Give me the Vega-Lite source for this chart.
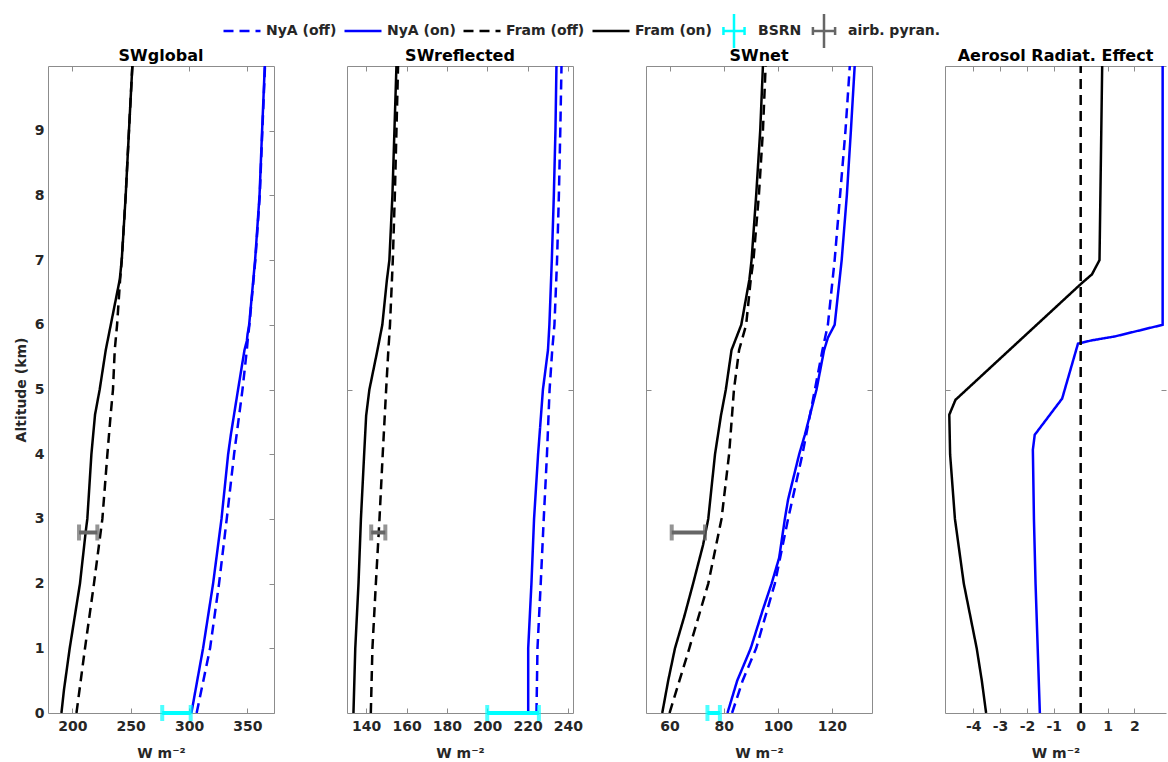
{
  "$schema": "https://vega.github.io/schema/vega-lite/v6.json",
  "autosize": {"type": "pad"},
  "padding": {"left": 13, "top": 10, "right": 0, "bottom": 0},
  "background": "white",
  "spacing": 73,
  "bounds": "flush",
  "datasets": {
    "lines": [
      {"panel": "SWglobal", "series": "Fram (on)", "alt": 0, "val": 190.6},
      {"panel": "SWglobal", "series": "Fram (on)", "alt": 0.36, "val": 192.8},
      {"panel": "SWglobal", "series": "Fram (on)", "alt": 1, "val": 197.7},
      {"panel": "SWglobal", "series": "Fram (on)", "alt": 2, "val": 206.5},
      {"panel": "SWglobal", "series": "Fram (on)", "alt": 2.8, "val": 211.4},
      {"panel": "SWglobal", "series": "Fram (on)", "alt": 3, "val": 212.8},
      {"panel": "SWglobal", "series": "Fram (on)", "alt": 4, "val": 216.3},
      {"panel": "SWglobal", "series": "Fram (on)", "alt": 4.61, "val": 219.4},
      {"panel": "SWglobal", "series": "Fram (on)", "alt": 5, "val": 223.4},
      {"panel": "SWglobal", "series": "Fram (on)", "alt": 5.61, "val": 228.6},
      {"panel": "SWglobal", "series": "Fram (on)", "alt": 6, "val": 232.9},
      {"panel": "SWglobal", "series": "Fram (on)", "alt": 6.7, "val": 240.6},
      {"panel": "SWglobal", "series": "Fram (on)", "alt": 7, "val": 242.3},
      {"panel": "SWglobal", "series": "Fram (on)", "alt": 8, "val": 245.7},
      {"panel": "SWglobal", "series": "Fram (on)", "alt": 9, "val": 248.5},
      {"panel": "SWglobal", "series": "Fram (on)", "alt": 10, "val": 251.4},
      {"panel": "SWglobal", "series": "Fram (off)", "alt": 0, "val": 203.5},
      {"panel": "SWglobal", "series": "Fram (off)", "alt": 1, "val": 210.8},
      {"panel": "SWglobal", "series": "Fram (off)", "alt": 2, "val": 218.5},
      {"panel": "SWglobal", "series": "Fram (off)", "alt": 3, "val": 225.7},
      {"panel": "SWglobal", "series": "Fram (off)", "alt": 4, "val": 230},
      {"panel": "SWglobal", "series": "Fram (off)", "alt": 4.61, "val": 232.8},
      {"panel": "SWglobal", "series": "Fram (off)", "alt": 5, "val": 234.8},
      {"panel": "SWglobal", "series": "Fram (off)", "alt": 5.61, "val": 236.3},
      {"panel": "SWglobal", "series": "Fram (off)", "alt": 6, "val": 238.3},
      {"panel": "SWglobal", "series": "Fram (off)", "alt": 6.7, "val": 240.9},
      {"panel": "SWglobal", "series": "Fram (off)", "alt": 7, "val": 242.3},
      {"panel": "SWglobal", "series": "Fram (off)", "alt": 8, "val": 245.7},
      {"panel": "SWglobal", "series": "Fram (off)", "alt": 9, "val": 248.5},
      {"panel": "SWglobal", "series": "Fram (off)", "alt": 10, "val": 251.4},
      {"panel": "SWglobal", "series": "NyA (on)", "alt": 0, "val": 302},
      {"panel": "SWglobal", "series": "NyA (on)", "alt": 1, "val": 312},
      {"panel": "SWglobal", "series": "NyA (on)", "alt": 2, "val": 320.6},
      {"panel": "SWglobal", "series": "NyA (on)", "alt": 3, "val": 327.8},
      {"panel": "SWglobal", "series": "NyA (on)", "alt": 4, "val": 333.5},
      {"panel": "SWglobal", "series": "NyA (on)", "alt": 4.3, "val": 335.8},
      {"panel": "SWglobal", "series": "NyA (on)", "alt": 5, "val": 342},
      {"panel": "SWglobal", "series": "NyA (on)", "alt": 5.61, "val": 347.5},
      {"panel": "SWglobal", "series": "NyA (on)", "alt": 5.75, "val": 349.5},
      {"panel": "SWglobal", "series": "NyA (on)", "alt": 5.85, "val": 350.1},
      {"panel": "SWglobal", "series": "NyA (on)", "alt": 6, "val": 351.5},
      {"panel": "SWglobal", "series": "NyA (on)", "alt": 7, "val": 356.6},
      {"panel": "SWglobal", "series": "NyA (on)", "alt": 8, "val": 360.4},
      {"panel": "SWglobal", "series": "NyA (on)", "alt": 9, "val": 362.6},
      {"panel": "SWglobal", "series": "NyA (on)", "alt": 10, "val": 364.9},
      {"panel": "SWglobal", "series": "NyA (off)", "alt": 0, "val": 306.5},
      {"panel": "SWglobal", "series": "NyA (off)", "alt": 1, "val": 318},
      {"panel": "SWglobal", "series": "NyA (off)", "alt": 2, "val": 325.7},
      {"panel": "SWglobal", "series": "NyA (off)", "alt": 3, "val": 332.3},
      {"panel": "SWglobal", "series": "NyA (off)", "alt": 4, "val": 338.6},
      {"panel": "SWglobal", "series": "NyA (off)", "alt": 5, "val": 345.8},
      {"panel": "SWglobal", "series": "NyA (off)", "alt": 5.61, "val": 349.5},
      {"panel": "SWglobal", "series": "NyA (off)", "alt": 5.75, "val": 350.2},
      {"panel": "SWglobal", "series": "NyA (off)", "alt": 6, "val": 351.7},
      {"panel": "SWglobal", "series": "NyA (off)", "alt": 7, "val": 356.8},
      {"panel": "SWglobal", "series": "NyA (off)", "alt": 8, "val": 360.6},
      {"panel": "SWglobal", "series": "NyA (off)", "alt": 9, "val": 362.8},
      {"panel": "SWglobal", "series": "NyA (off)", "alt": 10, "val": 365.1},

      {"panel": "SWreflected", "series": "Fram (on)", "alt": 0, "val": 133.7},
      {"panel": "SWreflected", "series": "Fram (on)", "alt": 1, "val": 134.6},
      {"panel": "SWreflected", "series": "Fram (on)", "alt": 2, "val": 136.2},
      {"panel": "SWreflected", "series": "Fram (on)", "alt": 3, "val": 137.4},
      {"panel": "SWreflected", "series": "Fram (on)", "alt": 4, "val": 139},
      {"panel": "SWreflected", "series": "Fram (on)", "alt": 4.6, "val": 140},
      {"panel": "SWreflected", "series": "Fram (on)", "alt": 5, "val": 141.6},
      {"panel": "SWreflected", "series": "Fram (on)", "alt": 5.61, "val": 145.6},
      {"panel": "SWreflected", "series": "Fram (on)", "alt": 6, "val": 148},
      {"panel": "SWreflected", "series": "Fram (on)", "alt": 6.7, "val": 150.3},
      {"panel": "SWreflected", "series": "Fram (on)", "alt": 7, "val": 151.5},
      {"panel": "SWreflected", "series": "Fram (on)", "alt": 8, "val": 153},
      {"panel": "SWreflected", "series": "Fram (on)", "alt": 9, "val": 154},
      {"panel": "SWreflected", "series": "Fram (on)", "alt": 10, "val": 155},
      {"panel": "SWreflected", "series": "Fram (off)", "alt": 0, "val": 142.3},
      {"panel": "SWreflected", "series": "Fram (off)", "alt": 1, "val": 143.1},
      {"panel": "SWreflected", "series": "Fram (off)", "alt": 2, "val": 144.8},
      {"panel": "SWreflected", "series": "Fram (off)", "alt": 3, "val": 146.6},
      {"panel": "SWreflected", "series": "Fram (off)", "alt": 4, "val": 148.2},
      {"panel": "SWreflected", "series": "Fram (off)", "alt": 5, "val": 149.9},
      {"panel": "SWreflected", "series": "Fram (off)", "alt": 5.61, "val": 151},
      {"panel": "SWreflected", "series": "Fram (off)", "alt": 6, "val": 151.8},
      {"panel": "SWreflected", "series": "Fram (off)", "alt": 7, "val": 153.2},
      {"panel": "SWreflected", "series": "Fram (off)", "alt": 8, "val": 154.2},
      {"panel": "SWreflected", "series": "Fram (off)", "alt": 9, "val": 155},
      {"panel": "SWreflected", "series": "Fram (off)", "alt": 10, "val": 155.8},
      {"panel": "SWreflected", "series": "NyA (on)", "alt": 0, "val": 220.3},
      {"panel": "SWreflected", "series": "NyA (on)", "alt": 1, "val": 220.3},
      {"panel": "SWreflected", "series": "NyA (on)", "alt": 2, "val": 221.9},
      {"panel": "SWreflected", "series": "NyA (on)", "alt": 3, "val": 223.2},
      {"panel": "SWreflected", "series": "NyA (on)", "alt": 4, "val": 225.2},
      {"panel": "SWreflected", "series": "NyA (on)", "alt": 5, "val": 227.6},
      {"panel": "SWreflected", "series": "NyA (on)", "alt": 5.61, "val": 230.1},
      {"panel": "SWreflected", "series": "NyA (on)", "alt": 6, "val": 230.8},
      {"panel": "SWreflected", "series": "NyA (on)", "alt": 7, "val": 232},
      {"panel": "SWreflected", "series": "NyA (on)", "alt": 8, "val": 233},
      {"panel": "SWreflected", "series": "NyA (on)", "alt": 9, "val": 233.8},
      {"panel": "SWreflected", "series": "NyA (on)", "alt": 10, "val": 234.3},
      {"panel": "SWreflected", "series": "NyA (off)", "alt": 0, "val": 224.4},
      {"panel": "SWreflected", "series": "NyA (off)", "alt": 1, "val": 224.9},
      {"panel": "SWreflected", "series": "NyA (off)", "alt": 2, "val": 226.5},
      {"panel": "SWreflected", "series": "NyA (off)", "alt": 3, "val": 228},
      {"panel": "SWreflected", "series": "NyA (off)", "alt": 4, "val": 229.6},
      {"panel": "SWreflected", "series": "NyA (off)", "alt": 5, "val": 230.9},
      {"panel": "SWreflected", "series": "NyA (off)", "alt": 5.61, "val": 232.2},
      {"panel": "SWreflected", "series": "NyA (off)", "alt": 6, "val": 233.3},
      {"panel": "SWreflected", "series": "NyA (off)", "alt": 7, "val": 234.6},
      {"panel": "SWreflected", "series": "NyA (off)", "alt": 8, "val": 235.5},
      {"panel": "SWreflected", "series": "NyA (off)", "alt": 9, "val": 236.2},
      {"panel": "SWreflected", "series": "NyA (off)", "alt": 10, "val": 236.8},

      {"panel": "SWnet", "series": "Fram (on)", "alt": 0, "val": 57.3},
      {"panel": "SWnet", "series": "Fram (on)", "alt": 0.5, "val": 59.5},
      {"panel": "SWnet", "series": "Fram (on)", "alt": 1, "val": 62},
      {"panel": "SWnet", "series": "Fram (on)", "alt": 1.5, "val": 65.5},
      {"panel": "SWnet", "series": "Fram (on)", "alt": 2, "val": 68.7},
      {"panel": "SWnet", "series": "Fram (on)", "alt": 2.6, "val": 72.4},
      {"panel": "SWnet", "series": "Fram (on)", "alt": 3, "val": 74.3},
      {"panel": "SWnet", "series": "Fram (on)", "alt": 4, "val": 76.8},
      {"panel": "SWnet", "series": "Fram (on)", "alt": 4.6, "val": 79},
      {"panel": "SWnet", "series": "Fram (on)", "alt": 5, "val": 80.8},
      {"panel": "SWnet", "series": "Fram (on)", "alt": 5.61, "val": 82.9},
      {"panel": "SWnet", "series": "Fram (on)", "alt": 6, "val": 86.5},
      {"panel": "SWnet", "series": "Fram (on)", "alt": 6.7, "val": 89.5},
      {"panel": "SWnet", "series": "Fram (on)", "alt": 7, "val": 90.3},
      {"panel": "SWnet", "series": "Fram (on)", "alt": 8, "val": 92},
      {"panel": "SWnet", "series": "Fram (on)", "alt": 9, "val": 93.5},
      {"panel": "SWnet", "series": "Fram (on)", "alt": 10, "val": 94.5},
      {"panel": "SWnet", "series": "Fram (off)", "alt": 0, "val": 60},
      {"panel": "SWnet", "series": "Fram (off)", "alt": 1, "val": 67.3},
      {"panel": "SWnet", "series": "Fram (off)", "alt": 2, "val": 74.3},
      {"panel": "SWnet", "series": "Fram (off)", "alt": 3, "val": 79.2},
      {"panel": "SWnet", "series": "Fram (off)", "alt": 4, "val": 82},
      {"panel": "SWnet", "series": "Fram (off)", "alt": 5, "val": 83.8},
      {"panel": "SWnet", "series": "Fram (off)", "alt": 5.61, "val": 85.7},
      {"panel": "SWnet", "series": "Fram (off)", "alt": 6, "val": 88.3},
      {"panel": "SWnet", "series": "Fram (off)", "alt": 6.7, "val": 90},
      {"panel": "SWnet", "series": "Fram (off)", "alt": 7, "val": 91},
      {"panel": "SWnet", "series": "Fram (off)", "alt": 8, "val": 93},
      {"panel": "SWnet", "series": "Fram (off)", "alt": 9, "val": 94.5},
      {"panel": "SWnet", "series": "Fram (off)", "alt": 10, "val": 95.5},
      {"panel": "SWnet", "series": "NyA (on)", "alt": 0, "val": 81.4},
      {"panel": "SWnet", "series": "NyA (on)", "alt": 0.5, "val": 85},
      {"panel": "SWnet", "series": "NyA (on)", "alt": 1, "val": 90},
      {"panel": "SWnet", "series": "NyA (on)", "alt": 1.6, "val": 94.5},
      {"panel": "SWnet", "series": "NyA (on)", "alt": 2, "val": 97.7},
      {"panel": "SWnet", "series": "NyA (on)", "alt": 2.4, "val": 100.5},
      {"panel": "SWnet", "series": "NyA (on)", "alt": 3, "val": 102.6},
      {"panel": "SWnet", "series": "NyA (on)", "alt": 3.3, "val": 103.8},
      {"panel": "SWnet", "series": "NyA (on)", "alt": 4, "val": 107.9},
      {"panel": "SWnet", "series": "NyA (on)", "alt": 4.3, "val": 110},
      {"panel": "SWnet", "series": "NyA (on)", "alt": 5, "val": 114.3},
      {"panel": "SWnet", "series": "NyA (on)", "alt": 5.61, "val": 117.1},
      {"panel": "SWnet", "series": "NyA (on)", "alt": 5.8, "val": 118.5},
      {"panel": "SWnet", "series": "NyA (on)", "alt": 6, "val": 121},
      {"panel": "SWnet", "series": "NyA (on)", "alt": 7, "val": 123.6},
      {"panel": "SWnet", "series": "NyA (on)", "alt": 8, "val": 125.5},
      {"panel": "SWnet", "series": "NyA (on)", "alt": 9, "val": 127},
      {"panel": "SWnet", "series": "NyA (on)", "alt": 10, "val": 128.4},
      {"panel": "SWnet", "series": "NyA (off)", "alt": 0, "val": 83.1},
      {"panel": "SWnet", "series": "NyA (off)", "alt": 0.5, "val": 87},
      {"panel": "SWnet", "series": "NyA (off)", "alt": 1, "val": 92},
      {"panel": "SWnet", "series": "NyA (off)", "alt": 2, "val": 98.9},
      {"panel": "SWnet", "series": "NyA (off)", "alt": 3, "val": 103.8},
      {"panel": "SWnet", "series": "NyA (off)", "alt": 4, "val": 109.1},
      {"panel": "SWnet", "series": "NyA (off)", "alt": 5, "val": 113.7},
      {"panel": "SWnet", "series": "NyA (off)", "alt": 5.61, "val": 116.5},
      {"panel": "SWnet", "series": "NyA (off)", "alt": 6, "val": 118.5},
      {"panel": "SWnet", "series": "NyA (off)", "alt": 7, "val": 121},
      {"panel": "SWnet", "series": "NyA (off)", "alt": 8, "val": 123},
      {"panel": "SWnet", "series": "NyA (off)", "alt": 9, "val": 125},
      {"panel": "SWnet", "series": "NyA (off)", "alt": 10, "val": 126.6},

      {"panel": "Aerosol", "series": "Fram (on)", "alt": 0, "val": -3.52},
      {"panel": "Aerosol", "series": "Fram (on)", "alt": 0.5, "val": -3.68},
      {"panel": "Aerosol", "series": "Fram (on)", "alt": 1, "val": -3.87},
      {"panel": "Aerosol", "series": "Fram (on)", "alt": 2, "val": -4.35},
      {"panel": "Aerosol", "series": "Fram (on)", "alt": 3, "val": -4.68},
      {"panel": "Aerosol", "series": "Fram (on)", "alt": 4, "val": -4.86},
      {"panel": "Aerosol", "series": "Fram (on)", "alt": 4.61, "val": -4.89},
      {"panel": "Aerosol", "series": "Fram (on)", "alt": 4.84, "val": -4.66},
      {"panel": "Aerosol", "series": "Fram (on)", "alt": 6.64, "val": 0.03},
      {"panel": "Aerosol", "series": "Fram (on)", "alt": 6.78, "val": 0.42},
      {"panel": "Aerosol", "series": "Fram (on)", "alt": 7, "val": 0.7},
      {"panel": "Aerosol", "series": "Fram (on)", "alt": 10, "val": 0.8},
      {"panel": "Aerosol", "series": "NyA (on)", "alt": 0, "val": -1.52},
      {"panel": "Aerosol", "series": "NyA (on)", "alt": 1, "val": -1.6},
      {"panel": "Aerosol", "series": "NyA (on)", "alt": 2, "val": -1.68},
      {"panel": "Aerosol", "series": "NyA (on)", "alt": 3, "val": -1.74},
      {"panel": "Aerosol", "series": "NyA (on)", "alt": 4.07, "val": -1.78},
      {"panel": "Aerosol", "series": "NyA (on)", "alt": 4.3, "val": -1.71},
      {"panel": "Aerosol", "series": "NyA (on)", "alt": 4.86, "val": -0.69},
      {"panel": "Aerosol", "series": "NyA (on)", "alt": 5.71, "val": -0.1},
      {"panel": "Aerosol", "series": "NyA (on)", "alt": 5.76, "val": 0.42},
      {"panel": "Aerosol", "series": "NyA (on)", "alt": 5.82, "val": 1.27},
      {"panel": "Aerosol", "series": "NyA (on)", "alt": 6, "val": 3.05},
      {"panel": "Aerosol", "series": "NyA (on)", "alt": 10, "val": 3.05},
      {"panel": "Aerosol", "series": "Fram (off)", "alt": 0, "val": 0},
      {"panel": "Aerosol", "series": "Fram (off)", "alt": 10, "val": 0}
    ],
    "err": [
      {"panel": "SWglobal", "series": "BSRN", "alt": 0, "lo": 277, "hi": 301.4},
      {"panel": "SWglobal", "series": "airb. pyran.", "alt": 2.79, "lo": 205.7, "hi": 221.4},
      {"panel": "SWreflected", "series": "BSRN", "alt": 0, "lo": 200, "hi": 225.6},
      {"panel": "SWreflected", "series": "airb. pyran.", "alt": 2.79, "lo": 142.5, "hi": 149.5},
      {"panel": "SWnet", "series": "BSRN", "alt": 0, "lo": 74, "hi": 78.6},
      {"panel": "SWnet", "series": "airb. pyran.", "alt": 2.79, "lo": 60.8, "hi": 73.1}
    ]
  },
  "hconcat": [
    {
      "width": 226, "height": 647,
      "title": {"text": "SWglobal"},
      "layer": [
        {
          "data": {"name": "lines"},
          "transform": [{"filter": "datum.panel === 'SWglobal'"}],
          "mark": {"type": "line", "strokeWidth": 2.5, "clip": true},
          "encoding": {
            "x": {"field": "val", "type": "quantitative", "scale": {"domain": [179.1, 372.8], "nice": false, "zero": false},
                  "axis": {"orient": "bottom", "title": "W m⁻²", "values": [200, 250, 300, 350], "labelFontSize": 14, "labelFontWeight": "bold", "labelColor": "#262626", "titleFontSize": 14, "titleFontWeight": "bold", "titleColor": "#262626"}},
            "y": {"field": "alt", "type": "quantitative", "scale": {"domain": [0, 10], "nice": false, "zero": false},
                  "axis": {"orient": "left", "title": "Altitude (km)", "values": [0, 1, 2, 3, 4, 5, 6, 7, 8, 9], "ticks": false, "tickSize": 0, "labelPadding": 4, "titlePadding": 6, "labelFontSize": 14, "labelFontWeight": "bold", "labelColor": "#262626", "titleFontSize": 14, "titleFontWeight": "bold", "titleColor": "#262626"}},
            "color": {"field": "series", "type": "nominal",
                      "scale": {"domain": ["NyA (off)", "NyA (on)", "Fram (off)", "Fram (on)", "BSRN", "airb. pyran."],
                                "range": ["#0000ff", "#0000ff", "#000000", "#000000", "#00ffff", "#666666"]},
                      "legend": {"orient": "none", "legendX": 174, "legendY": -55.5, "direction": "horizontal", "columns": 6, "title": null,
                                 "symbolType": "stroke", "symbolSize": 1369, "symbolStrokeWidth": 2.5, "labelOffset": 4, "columnPadding": 2,
                                 "labelFont": "DejaVu Sans", "labelFontSize": 14, "labelFontWeight": "bold", "labelColor": "#262626", "labelLimit": 300, "padding": 0,
                                 "encode": {"symbols": {"update": {"shape": {"signal": "datum.value === 'BSRN' ? 'M-0.57,0H0.57M-0.57,-0.22V0.22M0.57,-0.22V0.22M0,-0.92V0.92' : (datum.value === 'airb. pyran.' ? 'M-0.6,0H0.6M-0.6,-0.22V0.22M0.6,-0.22V0.22M0,-0.92V0.92' : 'M-1,0H1M0,-0.92L0,-0.92M0,0.92L0,0.92')"}}}}}},
            "strokeDash": {"field": "series", "type": "nominal",
                           "scale": {"domain": ["NyA (off)", "NyA (on)", "Fram (off)", "Fram (on)", "BSRN", "airb. pyran."],
                                     "range": [[10, 6], [1, 0], [10, 6], [1, 0], [1, 0], [1, 0]]},
                           "legend": {"orient": "none", "legendX": 174, "legendY": -55.5, "direction": "horizontal", "columns": 6, "title": null,
                                      "symbolType": "stroke", "symbolSize": 1369, "symbolStrokeWidth": 2.5, "labelOffset": 4, "columnPadding": 2,
                                      "labelFont": "DejaVu Sans", "labelFontSize": 14, "labelFontWeight": "bold", "labelColor": "#262626", "labelLimit": 300, "padding": 0}},
            "order": {"field": "alt", "type": "quantitative"}
          }
        },
        {
          "data": {"name": "err"},
          "transform": [{"filter": "datum.panel === 'SWglobal'"}],
          "mark": {"type": "rule", "strokeWidth": 4},
          "encoding": {
            "x": {"field": "lo", "type": "quantitative", "axis": {"orient": "top", "title": null, "labels": false, "values": [200, 250, 300, 350]}},
            "x2": {"field": "hi"},
            "y": {"field": "alt", "type": "quantitative", "axis": {"orient": "right", "title": null, "labels": false, "values": [0, 1, 2, 3, 4, 5, 6, 7, 8, 9]}},
            "color": {"field": "series", "type": "nominal"}
          }
        },
        {
          "data": {"name": "err"},
          "transform": [{"filter": "datum.panel === 'SWglobal'"}, {"fold": ["lo", "hi"], "as": ["end", "xv"]}],
          "mark": {"type": "tick", "orient": "vertical", "size": 16, "thickness": 4},
          "encoding": {
            "x": {"field": "xv", "type": "quantitative", "axis": null},
            "y": {"field": "alt", "type": "quantitative", "axis": null},
            "color": {"field": "series", "type": "nominal"}
          }
        }
      ],
      "resolve": {"axis": {"x": "independent", "y": "independent"}}
    },
    {
      "width": 226, "height": 647,
      "title": {"text": "SWreflected"},
      "layer": [
        {
          "data": {"name": "lines"},
          "transform": [{"filter": "datum.panel === 'SWreflected'"}],
          "mark": {"type": "line", "strokeWidth": 2.5, "clip": true},
          "encoding": {
            "x": {"field": "val", "type": "quantitative", "scale": {"domain": [130.5, 242.5], "nice": false, "zero": false},
                  "axis": {"orient": "bottom", "title": "W m⁻²", "values": [140, 160, 180, 200, 220, 240], "labelFontSize": 14, "labelFontWeight": "bold", "labelColor": "#262626", "titleFontSize": 14, "titleFontWeight": "bold", "titleColor": "#262626"}},
            "y": {"field": "alt", "type": "quantitative", "scale": {"domain": [0, 10], "nice": false, "zero": false},
                  "axis": {"orient": "left", "title": null, "labels": false, "values": [5]}},
            "color": {"field": "series", "type": "nominal"},
            "strokeDash": {"field": "series", "type": "nominal"},
            "order": {"field": "alt", "type": "quantitative"}
          }
        },
        {
          "data": {"name": "err"},
          "transform": [{"filter": "datum.panel === 'SWreflected'"}],
          "mark": {"type": "rule", "strokeWidth": 4},
          "encoding": {
            "x": {"field": "lo", "type": "quantitative", "axis": {"orient": "top", "title": null, "labels": false, "values": [140, 160, 180, 200, 220, 240]}},
            "x2": {"field": "hi"},
            "y": {"field": "alt", "type": "quantitative", "axis": {"orient": "right", "title": null, "labels": false, "values": [5]}},
            "color": {"field": "series", "type": "nominal"}
          }
        },
        {
          "data": {"name": "err"},
          "transform": [{"filter": "datum.panel === 'SWreflected'"}, {"fold": ["lo", "hi"], "as": ["end", "xv"]}],
          "mark": {"type": "tick", "orient": "vertical", "size": 16, "thickness": 4},
          "encoding": {
            "x": {"field": "xv", "type": "quantitative", "axis": null},
            "y": {"field": "alt", "type": "quantitative", "axis": null},
            "color": {"field": "series", "type": "nominal"}
          }
        }
      ],
      "resolve": {"axis": {"x": "independent", "y": "independent"}}
    },
    {
      "width": 226, "height": 647,
      "title": {"text": "SWnet"},
      "layer": [
        {
          "data": {"name": "lines"},
          "transform": [{"filter": "datum.panel === 'SWnet'"}],
          "mark": {"type": "line", "strokeWidth": 2.5, "clip": true},
          "encoding": {
            "x": {"field": "val", "type": "quantitative", "scale": {"domain": [51.3, 134.8], "nice": false, "zero": false},
                  "axis": {"orient": "bottom", "title": "W m⁻²", "values": [60, 80, 100, 120], "labelFontSize": 14, "labelFontWeight": "bold", "labelColor": "#262626", "titleFontSize": 14, "titleFontWeight": "bold", "titleColor": "#262626"}},
            "y": {"field": "alt", "type": "quantitative", "scale": {"domain": [0, 10], "nice": false, "zero": false},
                  "axis": {"orient": "left", "title": null, "labels": false, "values": [5]}},
            "color": {"field": "series", "type": "nominal"},
            "strokeDash": {"field": "series", "type": "nominal"},
            "order": {"field": "alt", "type": "quantitative"}
          }
        },
        {
          "data": {"name": "err"},
          "transform": [{"filter": "datum.panel === 'SWnet'"}],
          "mark": {"type": "rule", "strokeWidth": 4},
          "encoding": {
            "x": {"field": "lo", "type": "quantitative", "axis": {"orient": "top", "title": null, "labels": false, "values": [60, 80, 100, 120]}},
            "x2": {"field": "hi"},
            "y": {"field": "alt", "type": "quantitative", "axis": {"orient": "right", "title": null, "labels": false, "values": [5]}},
            "color": {"field": "series", "type": "nominal"}
          }
        },
        {
          "data": {"name": "err"},
          "transform": [{"filter": "datum.panel === 'SWnet'"}, {"fold": ["lo", "hi"], "as": ["end", "xv"]}],
          "mark": {"type": "tick", "orient": "vertical", "size": 16, "thickness": 4},
          "encoding": {
            "x": {"field": "xv", "type": "quantitative", "axis": null},
            "y": {"field": "alt", "type": "quantitative", "axis": null},
            "color": {"field": "series", "type": "nominal"}
          }
        }
      ],
      "resolve": {"axis": {"x": "independent", "y": "independent"}}
    },
    {
      "width": 221, "height": 647,
      "title": {"text": "Aerosol Radiat. Effect"},
      "view": {"stroke": null},
      "layer": [
        {
          "data": {"name": "lines"},
          "transform": [{"filter": "datum.panel === 'Aerosol' && datum.series !== 'Fram (off)'"}],
          "mark": {"type": "line", "strokeWidth": 2.5, "clip": true},
          "encoding": {
            "x": {"field": "val", "type": "quantitative", "scale": {"domain": [-5.05, 3.175], "nice": false, "zero": false},
                  "axis": {"orient": "bottom", "title": "W m⁻²", "values": [-4, -3, -2, -1, 0, 1, 2], "domain": true, "domainColor": "#8c8c8c",
                           "labelExpr": "datum.value < 0 ? '-' + abs(datum.value) : '' + datum.value",
                           "labelFontSize": 14, "labelFontWeight": "bold", "labelColor": "#262626", "titleFontSize": 14, "titleFontWeight": "bold", "titleColor": "#262626"}},
            "y": {"field": "alt", "type": "quantitative", "scale": {"domain": [0, 10], "nice": false, "zero": false},
                  "axis": {"orient": "left", "title": null, "labels": false, "values": [5], "domain": true, "domainColor": "#8c8c8c"}},
            "color": {"field": "series", "type": "nominal"},
            "strokeDash": {"field": "series", "type": "nominal"},
            "order": {"field": "alt", "type": "quantitative"}
          }
        },
        {
          "data": {"name": "lines"},
          "transform": [{"filter": "datum.panel === 'Aerosol' && datum.series === 'Fram (off)'"}],
          "mark": {"type": "line", "strokeWidth": 2.5, "clip": true},
          "encoding": {
            "x": {"field": "val", "type": "quantitative", "axis": {"orient": "top", "title": null, "labels": false, "values": [-4, -3, -2, -1, 0, 1, 2], "domain": true, "domainColor": "#8c8c8c"}},
            "y": {"field": "alt", "type": "quantitative", "axis": {"orient": "right", "title": null, "labels": false, "values": [5]}},
            "color": {"field": "series", "type": "nominal"},
            "strokeDash": {"field": "series", "type": "nominal"},
            "order": {"field": "alt", "type": "quantitative"}
          }
        }
      ],
      "resolve": {"axis": {"x": "independent", "y": "independent"}}
    }
  ],
  "resolve": {"scale": {"x": "independent", "y": "shared", "color": "shared", "strokeDash": "shared"},
              "legend": {"color": "shared", "strokeDash": "shared"}},
  "config": {
    "font": "DejaVu Sans",
    "view": {"stroke": "#8c8c8c", "strokeWidth": 1},
    "title": {"font": "DejaVu Sans", "fontSize": 16, "fontWeight": "bold", "color": "#000000", "anchor": "middle", "offset": 2, "baseline": "alphabetic"},
    "axis": {
      "domain": false, "grid": false,
      "tickColor": "#8c8c8c", "tickSize": -5, "tickWidth": 1,
      "labelFont": "DejaVu Sans", "labelFontSize": 14, "labelFontWeight": "bold", "labelColor": "#262626",
      "labelFlush": false, "labelOverlap": false, "labelPadding": 11,
      "titleFont": "DejaVu Sans", "titleFontSize": 14, "titleFontWeight": "bold", "titleColor": "#262626", "titlePadding": 13
    }
  }
}
